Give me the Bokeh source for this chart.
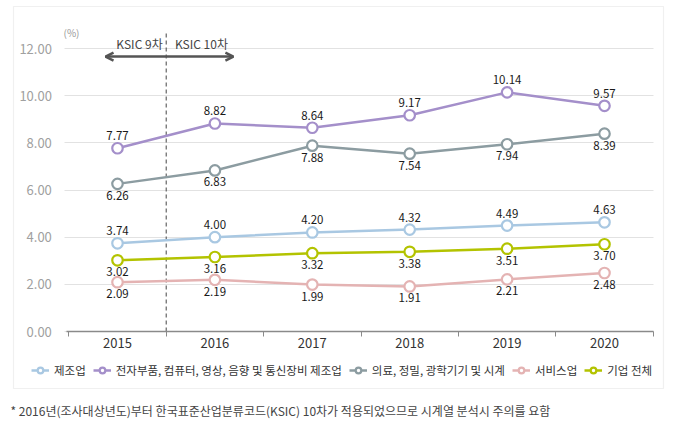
from bokeh.plotting import figure
from bokeh.models import (Range1d, FixedTicker, Label, Legend, LegendItem, Arrow, Grid,
                          LinearAxis, OpenHead, BoxAnnotation, ColumnDataSource,
                          NumeralTickFormatter)
from bokeh.core.properties import value
from bokeh.embed import file_html
from bokeh.resources import INLINE

years = [2015, 2016, 2017, 2018, 2019, 2020]
manufacturing = [3.74, 4.00, 4.20, 4.32, 4.49, 4.63]
electronics = [7.77, 8.82, 8.64, 9.17, 10.14, 9.57]
medical = [6.26, 6.83, 7.88, 7.54, 7.94, 8.39]
services = [2.09, 2.19, 1.99, 1.91, 2.21, 2.48]
all_firms = [3.02, 3.16, 3.32, 3.38, 3.51, 3.70]
series_names = ["제조업", "전자부품, 컴퓨터, 영상, 음향 및 통신장비 제조업",
                "의료, 정밀, 광학기기 및 시계", "서비스업", "기업 전체"]
y_ticks = [0, 2, 4, 6, 8, 10, 12]
footnote = "* 2016년(조사대상년도)부터 한국표준산업분류코드(KSIC) 10차가 적용되었으므로 시계열 분석시 주의를 요함"

FONT = "Noto Sans CJK KR"
W, H = 674, 432

# pixel geometry of the plotting area (frame covers the whole canvas)
PX_X2015, PX_PER_YEAR = 117.0, 97.4
PX_Y0, PX_PER_UNIT = 331.0, 23.583
X0 = 2015 - PX_X2015 / PX_PER_YEAR
X1 = 2015 + (W - PX_X2015) / PX_PER_YEAR
Y0 = -(H - PX_Y0) / PX_PER_UNIT
Y1 = PX_Y0 / PX_PER_UNIT
XL, XR = 2014.48, 2020.5

series = [
    (manufacturing, "#a9c8e2", "above"),
    (electronics, "#a48fca", "above"),
    (medical, "#8c9ca1", "below"),
    (services, "#e4b3b3", "below"),
    (all_firms, "#b3c300", "below"),
]

p = figure(width=W, height=H, output_backend="svg", toolbar_location=None,
           x_range=Range1d(X0, X1), y_range=Range1d(Y0, Y1),
           x_axis_location=None, y_axis_location=None, min_border=0)
p.outline_line_color = None
p.background_fill_color = "white"
p.border_fill_color = "white"
for g in p.grid:
    g.visible = False

yaxis = LinearAxis(fixed_location=XL, bounds=(0, 12), ticker=FixedTicker(ticks=y_ticks),
                   formatter=NumeralTickFormatter(format="0.00"))
yaxis.axis_line_color = None
yaxis.major_tick_line_color = None
yaxis.minor_tick_line_color = None
yaxis.major_label_text_color = "#a0a0a0"
yaxis.major_label_text_font = FONT
yaxis.major_label_text_font_size = "13px"
yaxis.major_label_standoff = 9
p.add_layout(yaxis, "left")

p.add_layout(Grid(dimension=1, ticker=FixedTicker(ticks=y_ticks), cross_bounds=(XL - 0.02, XR),
                  grid_line_color="#e2e2e2", grid_line_width=1))

xaxis = LinearAxis(fixed_location=0, bounds=(XL, XR),
                   ticker=FixedTicker(ticks=years, minor_ticks=[y + 0.5 for y in [2014] + years]),
                   formatter=NumeralTickFormatter(format="0"))
xaxis.axis_line_color = "#8a8a8a"
xaxis.axis_line_width = 1.5
xaxis.major_tick_out = 0
xaxis.major_tick_in = 0
xaxis.minor_tick_out = 5
xaxis.minor_tick_in = 0
xaxis.minor_tick_line_color = "#8a8a8a"
xaxis.major_label_text_color = "#333333"
xaxis.major_label_text_font = FONT
xaxis.major_label_text_font_size = "13px"
xaxis.major_label_standoff = 1
p.add_layout(xaxis, "below")

# KSIC divider
p.segment(x0=[2015.5], y0=[0], x1=[2015.5], y1=[12.68], line_color="#444444",
          line_dash="4 3", line_width=1)
p.add_layout(Arrow(start=OpenHead(size=8, line_color="#555555", line_width=2.5),
                   end=OpenHead(size=8, line_color="#555555", line_width=2.5),
                   x_start=2014.877, y_start=11.66, x_end=2016.19, y_end=11.66,
                   line_color="#555555", line_width=2.5))
p.add_layout(Label(x=2015.226, y=12.21, text="KSIC 9차", text_align="center", text_baseline="middle",
                   text_font=FONT, text_font_size="12px", text_color="#444444"))
p.add_layout(Label(x=2015.862, y=12.21, text="KSIC 10차", text_align="center", text_baseline="middle",
                   text_font=FONT, text_font_size="12px", text_color="#444444"))
p.add_layout(Label(x=71, y=H - 32, x_units="screen", y_units="screen", text="(%)",
                   text_align="center", text_baseline="middle",
                   text_font=FONT, text_font_size="10px", text_color="#999999"))

items = []
for (vals, color, pos), name in zip(series, series_names):
    src = ColumnDataSource(dict(x=years, y=vals, t=["%.2f" % v for v in vals]))
    lr = p.line("x", "y", source=src, line_color=color, line_width=2.5)
    sr = p.scatter("x", "y", source=src, size=10.5, fill_color="white", line_color=color, line_width=2.2)
    if pos == "above":
        p.text("x", "y", text="t", source=src, text_align="center", text_baseline="bottom",
               y_offset=-8, text_font=value(FONT), text_font_size="11.5px", text_color="#1a1a1a")
    else:
        p.text("x", "y", text="t", source=src, text_align="center", text_baseline="top",
               y_offset=7, text_font=value(FONT), text_font_size="11.5px", text_color="#1a1a1a")
    items.append(LegendItem(label=name, renderers=[lr, sr]))

legend = Legend(items=items, orientation="horizontal", location=(31, 54),
                glyph_width=18, glyph_height=14, label_standoff=5, spacing=7,
                padding=0, margin=0, border_line_color=None, background_fill_alpha=0,
                label_text_font=FONT, label_text_font_size="11.5px", label_text_color="#333333")
p.add_layout(legend)

p.add_layout(BoxAnnotation(left=13, right=663, top=H - 6, bottom=H - 388,
                           left_units="screen", right_units="screen",
                           top_units="screen", bottom_units="screen",
                           fill_alpha=0, line_color="#cccccc", line_width=1.2))

p.add_layout(Label(x=10, y=H - 410, x_units="screen", y_units="screen", text=footnote,
                   text_baseline="middle", text_font=FONT, text_font_size="12px",
                   text_color="#444444"))

open("out.html", "w").write(file_html(p, INLINE))
